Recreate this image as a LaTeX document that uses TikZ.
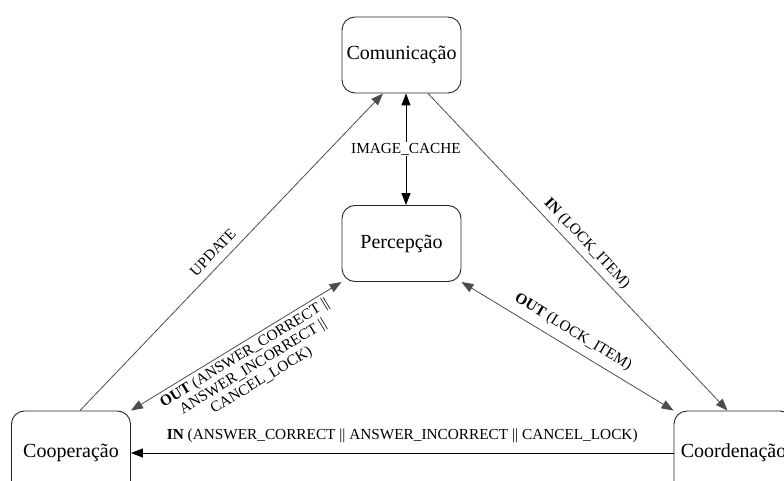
\documentclass[tikz,border=0pt]{standalone}
\usepackage{fontspec}
\setmainfont{Liberation Serif}
\usetikzlibrary{arrows.meta,calc}
\begin{document}
\begin{tikzpicture}[x=1pt,y=-1pt,
  state/.style={draw=black!85, line width=0.9pt, rounded corners=13pt, fill=white, align=center, font=\fontsize{20}{24}\selectfont, inner sep=0pt},
  topstate/.style={state, minimum width=119pt, minimum height=76pt},
  botstate/.style={state, minimum width=119pt, minimum height=84pt},
  conn/.style={line width=0.8pt, draw=black!70},
  darkconn/.style={line width=1pt, draw=black},
  tip/.style={-{Triangle[length=12pt,width=9pt]}},
  dtip/.style={{Triangle[length=12pt,width=9pt]}-{Triangle[length=12pt,width=9pt]}},
  lbl/.style={font=\fontsize{15.3}{16}\selectfont, inner sep=2pt, text=black, align=center}
]
\useasboundingbox (0,0) rectangle (784,481);
\clip (0,0) rectangle (784,481);

\node[topstate] (com) at (401.5,55) {Comunicação};
\node[topstate] (per) at (401.5,243.5) {Percepção};
\node[botstate] (coop) at (71,453) {Cooperação};
\node[botstate] (coord) at (733.5,453) {Coordenação};

\draw[conn,tip] ($(coop.north)+(9,0)$) -- node[lbl,sloped,pos=0.47,above=5.7pt] {UPDATE} ($(com.south)+(-18.5,0)$);

\draw[darkconn,dtip] ($(com.south)+(4.5,0)$) -- node[lbl,fill=white,inner sep=1pt] {IMAGE\_CACHE} ($(per.north)+(4.5,0)$);

\draw[conn,tip] ($(com.south)+(26.5,0)$) -- node[lbl,sloped,pos=0.5,above=3pt] {\textbf{IN} (LOCK\_ITEM)} ($(coord.north)+(-6,0)$);

\draw[conn,dtip] (per.south east) -- node[lbl,sloped,pos=0.49,above=5.5pt] {\textbf{OUT} (LOCK\_ITEM)} (coord.north west);

\draw[conn,dtip] (coop.north east) -- node[lbl,sloped,pos=0.515,below=1.3pt] {\textbf{OUT} (ANSWER\_CORRECT ||\\ANSWER\_INCORRECT ||\\CANCEL\_LOCK)} (per.south west);

\draw[darkconn,tip] (coord.west) -- node[lbl,pos=0.5,above=7.6pt] {\textbf{IN} (ANSWER\_CORRECT || ANSWER\_INCORRECT || CANCEL\_LOCK)} (coop.east);
\end{tikzpicture}
\end{document}
